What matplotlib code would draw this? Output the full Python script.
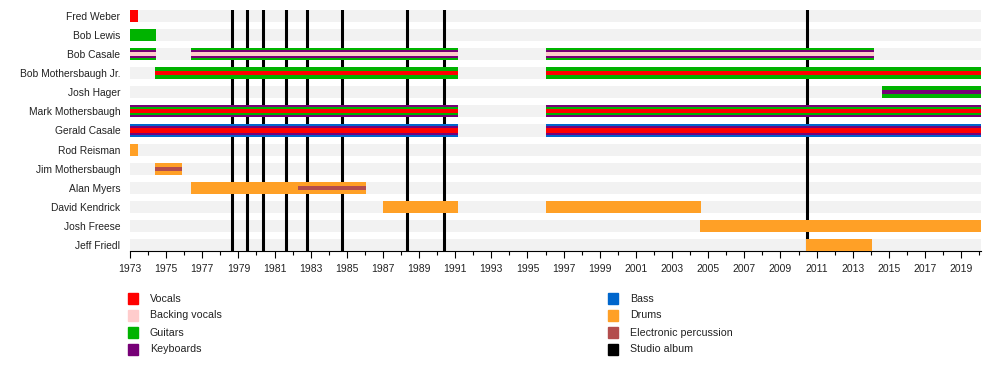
import matplotlib
matplotlib.use("Agg")
import matplotlib.pyplot as plt
from matplotlib.patches import Rectangle

plt.rcParams['font.family'] = ['Liberation Sans', 'DejaVu Sans']

# data
members = ["Fred Weber", "Bob Lewis", "Bob Casale", "Bob Mothersbaugh Jr.",
           "Josh Hager", "Mark Mothersbaugh", "Gerald Casale", "Rod Reisman",
           "Jim Mothersbaugh", "Alan Myers", "David Kendrick", "Josh Freese",
           "Jeff Friedl"]

START = 1973.0
END = 2020.1

roles = ["Vocals", "Backing vocals", "Guitars", "Keyboards",
         "Bass", "Drums", "Electronic percussion", "Studio album"]
role_colors = ["#ff0000", "#ffcccc", "#00b300", "#770077",
               "#0066cc", "#ffa026", "#b34d4d", "#000000"]

# stacking order of each member's roles (outer -> inner)
layers = {
    "Fred Weber": ["Vocals"],
    "Bob Lewis": ["Guitars"],
    "Bob Casale": ["Guitars", "Keyboards", "Backing vocals"],
    "Bob Mothersbaugh Jr.": ["Guitars", "Vocals"],
    "Josh Hager": ["Guitars", "Keyboards"],
    "Mark Mothersbaugh": ["Keyboards", "Guitars", "Vocals"],
    "Gerald Casale": ["Bass", "Keyboards", "Vocals"],
    "Rod Reisman": ["Drums"],
    "Jim Mothersbaugh": ["Drums", "Electronic percussion"],
    "Alan Myers": ["Drums", "Electronic percussion"],
    "David Kendrick": ["Drums"],
    "Josh Freese": ["Drums"],
    "Jeff Friedl": ["Drums"],
}

# periods: member, start, end (all layers of member unless role given)
periods = [
    ("Fred Weber", 1973.0, 1973.45, None),
    ("Bob Lewis", 1973.0, 1974.44, None),
    ("Bob Casale", 1973.0, 1974.44, None),
    ("Bob Casale", 1976.4, 1991.15, None),
    ("Bob Casale", 1996.0, 2014.17, None),
    ("Bob Mothersbaugh Jr.", 1974.38, 1991.15, None),
    ("Bob Mothersbaugh Jr.", 1996.0, END, None),
    ("Josh Hager", 2014.6, END, None),
    ("Mark Mothersbaugh", 1973.0, 1991.15, None),
    ("Mark Mothersbaugh", 1996.0, END, None),
    ("Gerald Casale", 1973.0, 1991.15, None),
    ("Gerald Casale", 1996.0, END, None),
    ("Rod Reisman", 1973.0, 1973.45, None),
    ("Jim Mothersbaugh", 1974.38, 1975.88, None),
    ("Alan Myers", 1976.4, 1986.06, "Drums"),
    ("Alan Myers", 1982.3, 1986.06, "Electronic percussion"),
    ("David Kendrick", 1987.0, 1991.15, None),
    ("David Kendrick", 1996.0, 2004.6, None),
    ("Josh Freese", 2004.55, END, None),
    ("Jeff Friedl", 2010.4, 2014.07, None),
]

albums = [1978.66, 1979.49, 1980.38, 1981.65, 1982.81, 1984.75,
          1988.35, 1990.39, 2010.48]

colmap = dict(zip(roles, role_colors))

fig = plt.figure(figsize=(10, 3.9), dpi=100)
ax = fig.add_axes([0.13, 1 - 251 / 390, 0.851, 241 / 390])

bar_h = 12 / 19.08

# gray background rows
for i, m in enumerate(members):
    ax.barh(i, END - START, left=START, height=bar_h, color="#f2f2f2",
            zorder=1, linewidth=0)

# studio albums
for a in albums:
    ax.axvline(a, color="black", linewidth=2.2, zorder=2)

# bars
for m, s, e, only in periods:
    i = members.index(m)
    lay = layers[m]
    n = len(lay)
    for k, r in enumerate(lay):
        if only is not None and r != only:
            continue
        if k == 0:
            h = bar_h
        elif k == n - 1:
            h = bar_h / 3
        else:
            h = bar_h * 2 / 3
        ax.barh(i, e - s, left=s, height=h, color=colmap[r],
                zorder=3 + k, linewidth=0)

ax.set_xlim(START, END)
ax.set_ylim(len(members) - 1 + bar_h / 2, -bar_h / 2)
ax.set_yticks(range(len(members)))
ax.set_yticklabels(members, fontsize=7.4, color="#222222")
ax.tick_params(axis="y", length=0, pad=7)
ax.set_xticks(range(1973, 2020, 2))
ax.set_xticks(range(1973, 2021), minor=True)
ax.tick_params(axis="x", which="major", length=5, width=0.8, labelsize=7.5,
               pad=4, labelcolor="#222222")
ax.tick_params(axis="x", which="minor", length=3, width=0.8)
for sp in ["top", "right", "left"]:
    ax.spines[sp].set_visible(False)
ax.spines["bottom"].set_linewidth(0.8)

# legend
W, H = 1000, 390
leg_left = roles[:4]
leg_right = roles[4:]
for col, (x0, items) in enumerate([(128, leg_left), (608, leg_right)]):
    for j, r in enumerate(items):
        yc = 298.5 + j * 17
        fig.add_artist(Rectangle((x0 / W, 1 - (yc + 5.5) / H), 10 / W, 11 / H,
                                 color=colmap[r], transform=fig.transFigure))
        fig.text((x0 + 22) / W, 1 - yc / H, r, fontsize=7.7, va="center",
                 color="#222222")

fig.savefig("out.png", dpi=100)
